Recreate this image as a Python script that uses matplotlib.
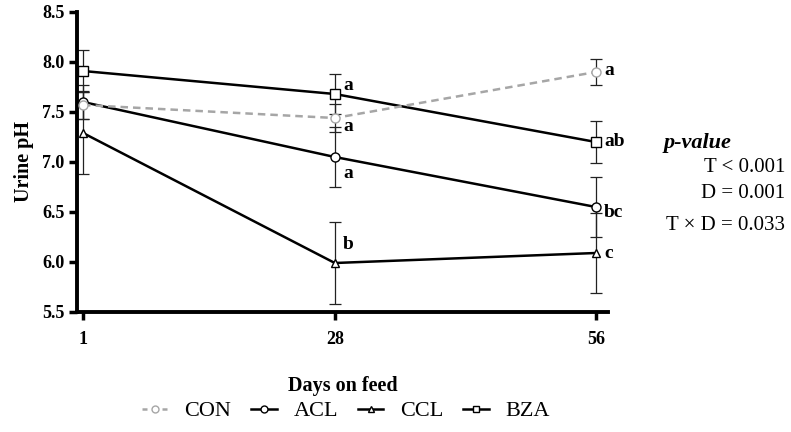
import matplotlib
matplotlib.use("Agg")
import matplotlib.pyplot as plt
from matplotlib.lines import Line2D

plt.rcParams['font.family'] = ['Liberation Serif', 'DejaVu Serif']

days = [1, 28, 56]
day_labels = ["1", "28", "56"]

con = [7.57, 7.44, 7.90]
con_err = [0.14, 0.14, 0.13]
acl = [7.60, 7.05, 6.55]
acl_err = [0.17, 0.30, 0.30]
ccl = [7.29, 5.99, 6.09]
ccl_err = [0.41, 0.41, 0.40]
bza = [7.91, 7.68, 7.20]
bza_err = [0.21, 0.20, 0.21]

letters_28 = {"BZA": "a", "CON": "a", "ACL": "a", "CCL": "b"}
letters_56 = {"CON": "a", "BZA": "ab", "ACL": "bc", "CCL": "c"}

fig = plt.figure(figsize=(7.91, 4.32), dpi=100)
ax = fig.add_axes([77/791, 1-312/432, (608-77)/791, 300/432])

gray = "#a6a6a6"
series = [
    ("CON", con, con_err, "o", gray, (0, (3, 2)), 3),
    ("ACL", acl, acl_err, "o", "black", "-", 2),
    ("CCL", ccl, ccl_err, "^", "black", "-", 2),
    ("BZA", bza, bza_err, "s", "black", "-", 2),
]
for name, vals, errs, mk, col, ls, z in series:
    ax.errorbar(days, vals, yerr=errs, fmt="none", ecolor="#222222",
                elinewidth=0.9, capsize=4, capthick=0.9, zorder=1)
for name, vals, errs, mk, col, ls, z in series:
    ms = 6.5 if mk != "^" else 6
    ax.plot(days, vals, linestyle=ls, color=col, linewidth=1.8, marker=mk,
            markersize=ms, markerfacecolor="white", markeredgecolor=col,
            markeredgewidth=1.0, zorder=z)

data = {"CON": con, "ACL": acl, "CCL": ccl, "BZA": bza}
off28 = {"BZA": (6, 6), "CON": (6, -6), "ACL": (6, -12), "CCL": (6, 13)}
for k, lab in letters_28.items():
    ax.annotate(lab, (days[1], data[k][1]), xytext=off28[k], textcoords="offset points",
                fontsize=14, fontweight="bold", ha="left", va="center")
off56 = {"CON": (6, 1), "BZA": (6, 0), "ACL": (6, -4), "CCL": (6, 0)}
for k, lab in letters_56.items():
    ax.annotate(lab, (days[2], data[k][2]), xytext=off56[k], textcoords="offset points",
                fontsize=14, fontweight="bold", ha="left", va="center")

ax.set_xlim(0.35, 57.3)
ax.set_ylim(5.5, 8.5)
ax.set_xticks(days)
ax.set_xticklabels(day_labels)
ax.set_yticks([5.5, 6.0, 6.5, 7.0, 7.5, 8.0, 8.5])
ax.set_yticklabels(["5.5", "6.0", "6.5", "7.0", "7.5", "8.0", "8.5"])
for lab in ax.get_xticklabels() + ax.get_yticklabels():
    lab.set_fontweight("bold")
    lab.set_fontsize(13)
ax.tick_params(axis="both", width=2.5, length=6, direction="out", pad=3)
ax.tick_params(axis="x", pad=8)
for s in ["top", "right"]:
    ax.spines[s].set_visible(False)
for s in ["left", "bottom"]:
    ax.spines[s].set_linewidth(2.8)

ax.set_ylabel("Urine pH", fontsize=14.5, fontweight="bold", labelpad=6)
ax.set_xlabel("Days on feed", fontsize=14.5, fontweight="bold", labelpad=20)

handles = [
    Line2D([], [], color=gray, linestyle=(0, (2, 2)), marker="o", markersize=5,
           markerfacecolor="white", markeredgecolor=gray, linewidth=1.8),
    Line2D([], [], color="black", marker="o", markersize=5,
           markerfacecolor="white", linewidth=1.8),
    Line2D([], [], color="black", marker="^", markersize=5,
           markerfacecolor="white", linewidth=1.8),
    Line2D([], [], color="black", marker="s", markersize=4.5,
           markerfacecolor="white", linewidth=1.8),
]
fig.legend(handles, ["CON", "ACL", "CCL", "BZA"], loc="center",
           bbox_to_anchor=(346/791, 1-411/432), ncol=4, frameon=False,
           fontsize=16, handlelength=1.15, columnspacing=0.9, handletextpad=0.75)

fig.text(698/791, 1-143/432, "p-value", fontsize=16, fontweight="bold",
         fontstyle="italic", ha="center", va="center")
fig.text(785/791, 1-167/432, "T < 0.001", fontsize=15, ha="right", va="center")
fig.text(785/791, 1-193/432, "D = 0.001", fontsize=15, ha="right", va="center")
fig.text(785/791, 1-226/432, "T \u00d7 D = 0.033", fontsize=15, ha="right", va="center")

fig.savefig("out.png", dpi=100)
